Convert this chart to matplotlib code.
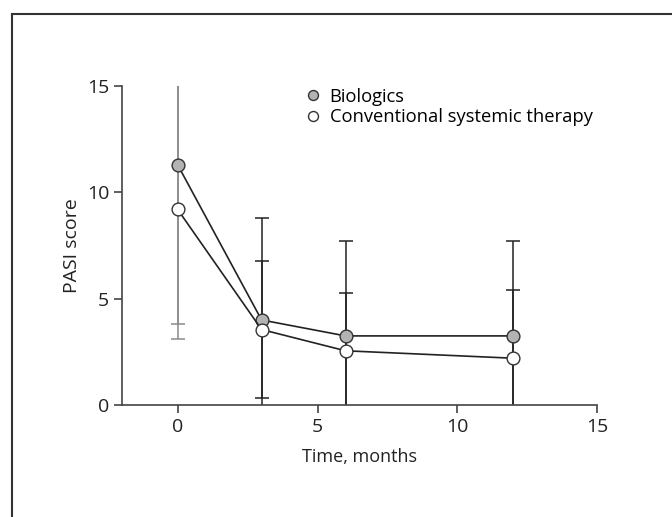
import numpy as np
import matplotlib.pyplot as plt
from matplotlib.lines import Line2D

plt.rcParams['font.family'] = ['Open Sans', 'DejaVu Sans']

months = [0, 3, 6, 12]
bio_mean = [11.3, 4.0, 3.25, 3.25]
bio_sd = [7.5, 4.8, 4.45, 4.45]
conv_mean = [9.2, 3.55, 2.55, 2.2]
conv_sd = [6.1, 3.2, 2.7, 3.2]

dark = '#222222'
fig = plt.figure(figsize=(6.72, 5.17), dpi=100)
ax = fig.add_axes([0.181, 0.2166, 0.708, 0.617])

for mean, sd in [(bio_mean, bio_sd), (conv_mean, conv_sd)]:
    for i in range(len(months)):
        c = '#8a8a8a' if months[i] == 0 else dark
        ax.errorbar(months[i], mean[i], yerr=sd[i], fmt='none', ecolor=c,
                    elinewidth=1.1, capsize=5, capthick=1.1, zorder=1)

ax.plot(months, bio_mean, '-o', color=dark, lw=1.2, ms=9.2,
        mfc='#b3b3b3', mec='#333333', mew=1.0, zorder=3, label='Biologics')
ax.plot(months, conv_mean, '-o', color=dark, lw=1.2, ms=9.2,
        mfc='white', mec='#333333', mew=1.0, zorder=3, label='Conventional systemic therapy')

ax.set_xlim(-2, 15)
ax.set_ylim(0, 15)
ax.set_xticks([0, 5, 10, 15])
ax.set_yticks([0, 5, 10, 15])
for s in ['top', 'right']:
    ax.spines[s].set_visible(False)
for s in ['left', 'bottom']:
    ax.spines[s].set_color('#444444')
    ax.spines[s].set_linewidth(1.2)
ax.tick_params(direction='out', length=6, width=1.2, color='#444444',
               labelsize=14, labelcolor='#222222', pad=3)
ax.set_xlabel('Time, months', fontsize=13, color='#222222', labelpad=9)
ax.set_ylabel('PASI score', fontsize=14, color='#222222', labelpad=4)

leg = ax.legend(loc='upper left', bbox_to_anchor=(0.385, 0.995), frameon=False,
                fontsize=13.2, handlelength=0.85, handletextpad=0.5, labelspacing=0.15,
                borderpad=0, borderaxespad=0, markerscale=0.78)
for h in leg.legend_handles:
    h.set_linestyle('none')

fig.add_artist(Line2D([12 / 672, 12 / 672], [0, 1 - 14 / 517], color='#333333', lw=1.5))
fig.add_artist(Line2D([12 / 672, 1], [1 - 14 / 517, 1 - 14 / 517], color='#333333', lw=1.5))

fig.savefig('out.png', dpi=100)
